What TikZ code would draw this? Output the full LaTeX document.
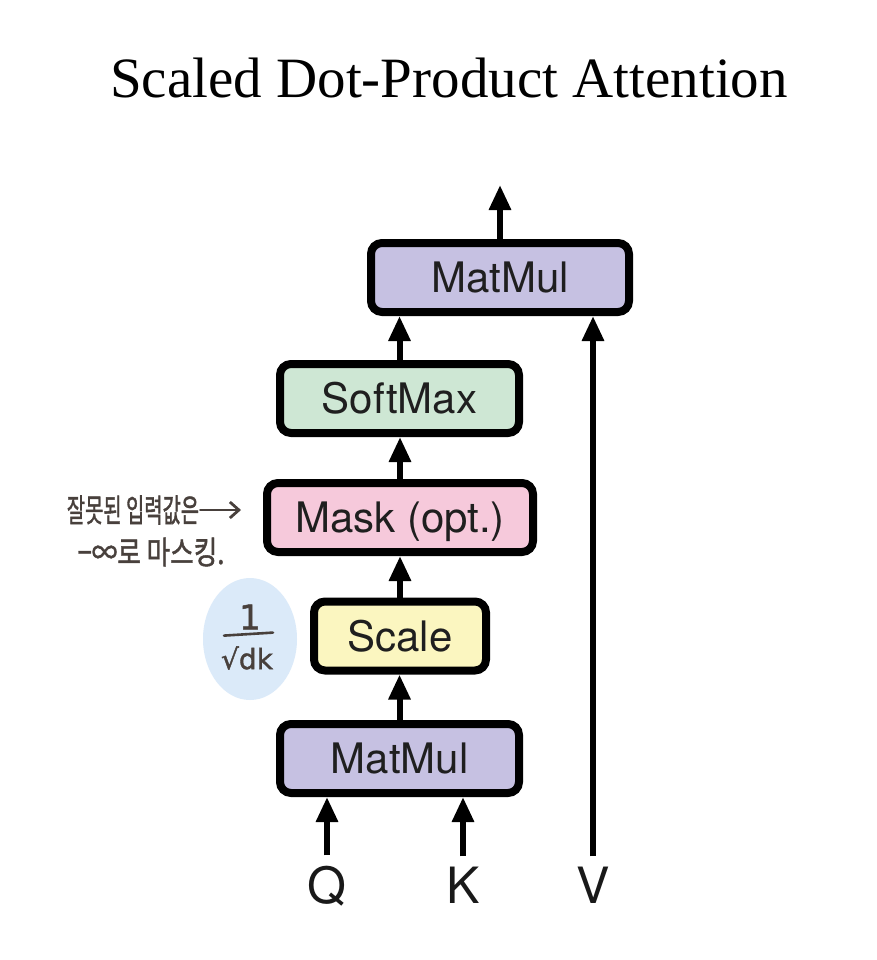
\documentclass[tikz,border=0pt]{standalone}
\usepackage{fontspec}
\setmainfont{Liberation Serif}
\newfontfamily\boxfont{TeX Gyre Heros}
\newfontfamily\krfont[FakeBold=1.6]{Noto Sans CJK KR}
\newfontfamily\handfont[FakeBold=1.4]{DejaVu Sans}
\usetikzlibrary{arrows.meta,shapes.geometric}
\definecolor{lav}{RGB}{198,193,226}
\definecolor{mint}{RGB}{206,231,212}
\definecolor{pinkbox}{RGB}{246,201,219}
\definecolor{yel}{RGB}{251,246,192}
\definecolor{bluecirc}{RGB}{219,234,249}
\definecolor{ink}{RGB}{72,64,60}
\begin{document}
\begin{tikzpicture}[x=1pt,y=-1pt,
  blk/.style={draw=black, line width=8pt, rounded corners=11pt, minimum height=69pt,
    inner sep=0pt, text height=30pt, text depth=0pt,
    font=\boxfont\fontsize{42}{48}\selectfont, text=black!88},
  arr/.style={line width=6pt, -{Triangle[width=21pt,length=25pt]}},
  lbl/.style={inner sep=0pt, anchor=base, font=\boxfont\fontsize{50}{56}\selectfont, text=black!90},
  note/.style={inner sep=1pt, text=ink, font=\krfont\fontsize{32}{36}\selectfont},
  notearr/.style={draw=ink, line width=2.8pt, line cap=round, -{Straight Barb[length=9pt,width=16pt,line width=2.8pt]}},
  hand/.style={inner sep=0pt, text=ink}
]
\fill[white] (0,0) rectangle (876,960);
\useasboundingbox (0,0) rectangle (876,960);

% title
\node[inner sep=0pt, anchor=base, font=\fontsize{57}{64}\selectfont] (title) at (449,98) {Scaled Dot-Product Attention};

% blocks
\node[blk, fill=lav, minimum width=258pt] (mm2) at (500,277.5) {MatMul};
\node[blk, fill=mint, minimum width=239pt] (soft) at (399.5,398.5) {SoftMax};
\node[blk, fill=pinkbox, minimum width=266pt] (mask) at (400,517.5) {Mask (opt.)};
\node[blk, fill=yel, minimum width=172pt] (scale) at (400,636) {Scale};
\node[blk, fill=lav, minimum width=239pt] (mm1) at (399.5,758.5) {MatMul};

% inputs
\node[lbl] (Q) at (327,903) {Q};
\node[lbl] (K) at (463,903) {K};
\node[lbl] (V) at (593,903) {V};

\coordinate (outtop) at (500,185);

% connectors
\draw[arr] (mm2.north) -- (mm2.north |- outtop);
\draw[arr] (soft.north) -- (soft.north |- mm2.south);
\draw[arr] (mask.north) -- (mask.north |- soft.south);
\draw[arr] (scale.north) -- (scale.north |- mask.south);
\draw[arr] (mm1.north) -- (mm1.north |- scale.south);
\draw[arr] ([yshift=10pt]Q.north) -- (Q.north |- mm1.south);
\draw[arr] ([yshift=10pt]K.north) -- (K.north |- mm1.south);
\draw[arr] ([yshift=10pt]V.north) -- (V.north |- mm2.south);

% handwritten notes
\node[note] (note1) at (133,510) {\scalebox{0.62}[1]{잘못된 입력값은}};
\node[note] (note2) at (151,552) {\scalebox{0.8}[1]{−∞로 마스킹.}};
\draw[notearr, shorten >=22pt] (note1.east) -- (note1.east -| mask.west);

% 1/sqrt(dk) note
\node[ellipse, fill=bluecirc, minimum width=94pt, minimum height=122pt, inner sep=0pt] (circ) at (250,639) {};
\node[hand, font=\handfont\fontsize{34}{38}\selectfont] (num) at (250,617) {1};
\node[hand, font=\handfont\fontsize{28}{32}\selectfont] (den) at (247,658) {√dk};
\draw[ink, line width=2.6pt, line cap=round] ([xshift=-26pt,yshift=-6pt]num.south) -- ([xshift=23pt,yshift=-3pt]num.south);
\end{tikzpicture}
\end{document}
